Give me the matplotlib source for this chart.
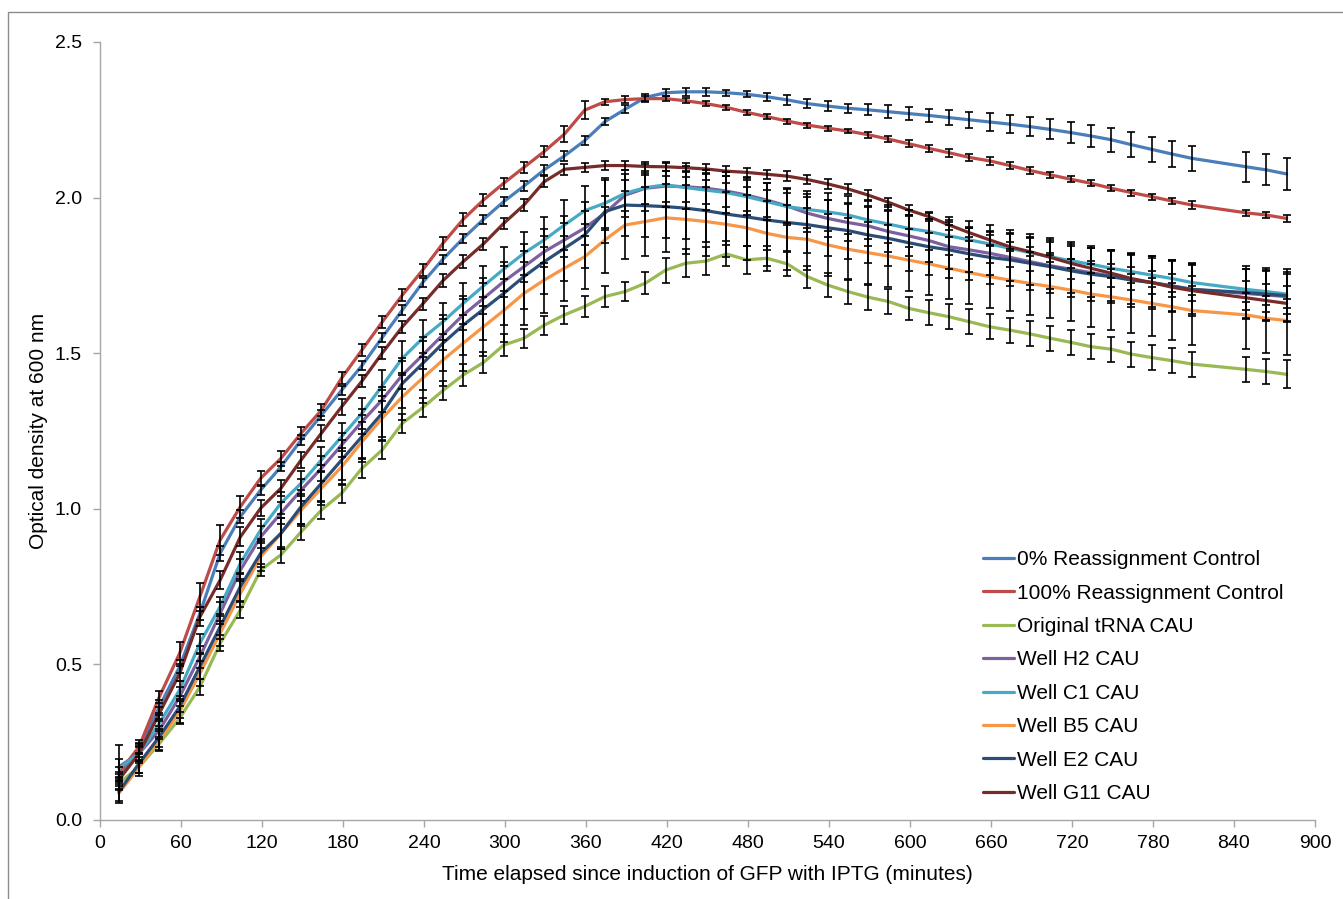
import matplotlib
matplotlib.use("Agg")
import matplotlib.pyplot as plt
from matplotlib.patches import Rectangle

plt.rcParams['font.family'] = ['Liberation Sans', 'DejaVu Sans']

# ---------------- data ----------------
time_min = [14, 29, 44, 59, 74, 89, 104, 119, 134, 149, 164, 179, 194, 209,
            224, 239, 254, 269, 284, 299, 314, 329, 344, 359, 374, 389, 404, 419,
            434, 449, 464, 479, 494, 509, 524, 539, 554, 569, 584, 599, 614, 629,
            644, 659, 674, 689, 704, 719, 734, 749, 764, 779, 794, 809, 849, 864, 879]

series_names = ["0% Reassignment Control", "100% Reassignment Control", "Original tRNA CAU",
                "Well H2 CAU", "Well C1 CAU", "Well B5 CAU", "Well E2 CAU", "Well G11 CAU"]

ctrl0 = [0.140, 0.231, 0.364, 0.493, 0.664, 0.857, 0.975, 1.060, 1.135, 1.221, 1.301, 1.381, 1.460, 1.550,
         1.639, 1.727, 1.802, 1.869, 1.930, 1.987, 2.037, 2.089, 2.134, 2.183, 2.244, 2.284, 2.322, 2.337,
         2.340, 2.340, 2.337, 2.332, 2.324, 2.314, 2.302, 2.294, 2.287, 2.282, 2.276, 2.270, 2.264, 2.257,
         2.250, 2.243, 2.236, 2.228, 2.219, 2.209, 2.198, 2.186, 2.170, 2.155, 2.140, 2.126, 2.099, 2.089, 2.076]
ctrl100 = [0.150, 0.236, 0.396, 0.536, 0.718, 0.900, 1.007, 1.098, 1.162, 1.243, 1.317, 1.420, 1.510, 1.600,
           1.687, 1.767, 1.853, 1.930, 1.992, 2.046, 2.097, 2.148, 2.204, 2.281, 2.308, 2.315, 2.318, 2.318,
           2.311, 2.302, 2.290, 2.274, 2.260, 2.246, 2.233, 2.223, 2.214, 2.202, 2.188, 2.173, 2.158, 2.144,
           2.129, 2.118, 2.103, 2.087, 2.073, 2.059, 2.046, 2.030, 2.016, 2.003, 1.989, 1.976, 1.951, 1.944, 1.933]
original = [0.118, 0.171, 0.246, 0.327, 0.428, 0.568, 0.675, 0.803, 0.852, 0.926, 0.996, 1.050, 1.130, 1.189,
            1.275, 1.325, 1.380, 1.430, 1.470, 1.526, 1.548, 1.590, 1.623, 1.650, 1.682, 1.698, 1.725, 1.767,
            1.789, 1.796, 1.819, 1.800, 1.805, 1.787, 1.746, 1.719, 1.698, 1.680, 1.666, 1.644, 1.630, 1.617,
            1.601, 1.585, 1.574, 1.562, 1.548, 1.535, 1.521, 1.513, 1.497, 1.486, 1.476, 1.465, 1.448, 1.441, 1.432]
well_h2 = [0.171, 0.214, 0.289, 0.396, 0.525, 0.664, 0.803, 0.910, 0.986, 1.060, 1.130, 1.205, 1.280, 1.350,
           1.430, 1.494, 1.559, 1.623, 1.676, 1.730, 1.778, 1.826, 1.864, 1.902, 1.950, 2.008, 2.030, 2.037,
           2.035, 2.030, 2.021, 2.008, 1.992, 1.973, 1.950, 1.933, 1.920, 1.909, 1.891, 1.877, 1.862, 1.842,
           1.832, 1.821, 1.808, 1.794, 1.781, 1.770, 1.759, 1.748, 1.737, 1.727, 1.716, 1.705, 1.692, 1.687, 1.682]
well_c1 = [0.166, 0.214, 0.311, 0.418, 0.568, 0.686, 0.825, 0.932, 1.018, 1.082, 1.157, 1.232, 1.307, 1.395,
           1.484, 1.548, 1.601, 1.660, 1.716, 1.770, 1.821, 1.864, 1.912, 1.958, 1.982, 2.014, 2.032, 2.041,
           2.032, 2.024, 2.016, 2.003, 1.987, 1.971, 1.962, 1.954, 1.944, 1.928, 1.915, 1.901, 1.891, 1.877,
           1.864, 1.851, 1.837, 1.823, 1.810, 1.797, 1.786, 1.773, 1.762, 1.751, 1.740, 1.727, 1.705, 1.698, 1.690]
well_b5 = [0.086, 0.171, 0.257, 0.348, 0.471, 0.600, 0.728, 0.846, 0.921, 0.996, 1.066, 1.135, 1.215, 1.291,
           1.360, 1.420, 1.478, 1.532, 1.585, 1.637, 1.692, 1.735, 1.773, 1.810, 1.864, 1.912, 1.923, 1.935,
           1.930, 1.923, 1.914, 1.903, 1.885, 1.872, 1.866, 1.848, 1.834, 1.823, 1.812, 1.799, 1.787, 1.773,
           1.759, 1.746, 1.735, 1.724, 1.714, 1.703, 1.690, 1.681, 1.671, 1.660, 1.649, 1.637, 1.623, 1.612, 1.605]
well_e2 = [0.091, 0.182, 0.268, 0.364, 0.493, 0.621, 0.750, 0.857, 0.921, 1.007, 1.082, 1.157, 1.232, 1.307,
           1.403, 1.467, 1.532, 1.590, 1.641, 1.692, 1.746, 1.794, 1.837, 1.880, 1.955, 1.976, 1.974, 1.971,
           1.966, 1.958, 1.947, 1.938, 1.928, 1.920, 1.913, 1.903, 1.894, 1.880, 1.869, 1.855, 1.842, 1.832,
           1.819, 1.808, 1.800, 1.789, 1.778, 1.765, 1.754, 1.746, 1.735, 1.727, 1.716, 1.705, 1.695, 1.690, 1.685]
well_g11 = [0.129, 0.214, 0.343, 0.471, 0.653, 0.771, 0.910, 1.002, 1.066, 1.157, 1.243, 1.328, 1.410, 1.500,
            1.585, 1.658, 1.733, 1.794, 1.851, 1.917, 1.976, 2.051, 2.091, 2.097, 2.103, 2.103, 2.100, 2.099,
            2.096, 2.092, 2.085, 2.081, 2.075, 2.069, 2.058, 2.044, 2.028, 2.008, 1.985, 1.960, 1.939, 1.912,
            1.887, 1.864, 1.842, 1.826, 1.808, 1.789, 1.773, 1.757, 1.740, 1.727, 1.712, 1.701, 1.678, 1.669, 1.660]

# error bar half-lengths (standard deviation)
err_ctrl0 = [0.015, 0.015, 0.020, 0.020, 0.020, 0.025, 0.020, 0.015, 0.015, 0.015, 0.015, 0.015, 0.015, 0.015,
             0.015, 0.015, 0.015, 0.015, 0.015, 0.015, 0.015, 0.015, 0.015, 0.015, 0.012, 0.012, 0.010, 0.012,
             0.012, 0.012, 0.010, 0.010, 0.012, 0.015, 0.015, 0.015, 0.015, 0.018, 0.020, 0.020, 0.022, 0.025,
             0.025, 0.028, 0.030, 0.030, 0.032, 0.035, 0.035, 0.038, 0.040, 0.040, 0.042, 0.040, 0.048, 0.050, 0.050]
err_ctrl100 = [0.020, 0.020, 0.020, 0.035, 0.045, 0.048, 0.035, 0.025, 0.025, 0.020, 0.020, 0.020, 0.020, 0.020,
               0.020, 0.020, 0.020, 0.020, 0.018, 0.018, 0.018, 0.018, 0.025, 0.030, 0.010, 0.010, 0.010, 0.008,
               0.008, 0.008, 0.008, 0.008, 0.008, 0.008, 0.008, 0.008, 0.008, 0.010, 0.010, 0.012, 0.012, 0.012,
               0.012, 0.012, 0.012, 0.010, 0.010, 0.010, 0.010, 0.010, 0.010, 0.010, 0.010, 0.012, 0.010, 0.010, 0.010]
err_original = [0.020, 0.020, 0.020, 0.020, 0.025, 0.025, 0.025, 0.020, 0.025, 0.025, 0.030, 0.030, 0.030, 0.030,
                0.030, 0.030, 0.030, 0.035, 0.035, 0.035, 0.030, 0.030, 0.030, 0.035, 0.035, 0.030, 0.035, 0.040,
                0.045, 0.045, 0.040, 0.045, 0.040, 0.040, 0.035, 0.040, 0.040, 0.040, 0.040, 0.038, 0.040, 0.040,
                0.040, 0.040, 0.040, 0.040, 0.040, 0.040, 0.040, 0.040, 0.040, 0.040, 0.040, 0.040, 0.040, 0.040, 0.045]
err_h2 = [0.070, 0.030, 0.030, 0.030, 0.035, 0.035, 0.035, 0.035, 0.035, 0.035, 0.040, 0.040, 0.040, 0.040,
          0.045, 0.045, 0.050, 0.050, 0.050, 0.050, 0.050, 0.050, 0.055, 0.055, 0.055, 0.050, 0.050, 0.050,
          0.050, 0.050, 0.050, 0.050, 0.055, 0.055, 0.060, 0.060, 0.060, 0.065, 0.065, 0.065, 0.070, 0.070,
          0.070, 0.070, 0.075, 0.075, 0.075, 0.075, 0.080, 0.080, 0.080, 0.080, 0.080, 0.080, 0.080, 0.080, 0.080]
err_c1 = [0.030, 0.025, 0.025, 0.030, 0.030, 0.030, 0.035, 0.035, 0.035, 0.040, 0.040, 0.045, 0.050, 0.050,
          0.055, 0.060, 0.060, 0.065, 0.065, 0.070, 0.070, 0.075, 0.080, 0.080, 0.080, 0.075, 0.075, 0.070,
          0.070, 0.065, 0.065, 0.060, 0.060, 0.060, 0.060, 0.060, 0.060, 0.060, 0.060, 0.060, 0.060, 0.060,
          0.060, 0.060, 0.060, 0.060, 0.060, 0.060, 0.060, 0.060, 0.060, 0.060, 0.060, 0.060, 0.065, 0.065, 0.065]
err_b5 = [0.030, 0.030, 0.035, 0.035, 0.040, 0.040, 0.045, 0.045, 0.050, 0.050, 0.055, 0.060, 0.065, 0.070,
          0.075, 0.080, 0.085, 0.090, 0.095, 0.100, 0.100, 0.105, 0.105, 0.105, 0.105, 0.110, 0.110, 0.110,
          0.110, 0.110, 0.105, 0.105, 0.105, 0.105, 0.100, 0.100, 0.100, 0.100, 0.100, 0.100, 0.100, 0.100,
          0.100, 0.100, 0.100, 0.100, 0.100, 0.100, 0.105, 0.105, 0.105, 0.105, 0.105, 0.110, 0.110, 0.110, 0.110]
err_e2 = [0.030, 0.030, 0.035, 0.035, 0.040, 0.040, 0.045, 0.045, 0.050, 0.055, 0.060, 0.065, 0.070, 0.075,
          0.080, 0.085, 0.090, 0.095, 0.100, 0.100, 0.105, 0.105, 0.105, 0.105, 0.100, 0.100, 0.100, 0.100,
          0.100, 0.100, 0.100, 0.095, 0.095, 0.095, 0.090, 0.090, 0.090, 0.090, 0.090, 0.090, 0.090, 0.090,
          0.085, 0.085, 0.085, 0.085, 0.085, 0.085, 0.085, 0.085, 0.085, 0.085, 0.085, 0.085, 0.085, 0.085, 0.085]
err_g11 = [0.020, 0.020, 0.020, 0.025, 0.030, 0.030, 0.030, 0.025, 0.025, 0.025, 0.025, 0.025, 0.020, 0.020,
           0.020, 0.020, 0.020, 0.020, 0.018, 0.018, 0.018, 0.018, 0.018, 0.015, 0.015, 0.015, 0.015, 0.015,
           0.015, 0.015, 0.015, 0.015, 0.015, 0.015, 0.015, 0.015, 0.015, 0.015, 0.015, 0.015, 0.015, 0.015,
           0.015, 0.015, 0.015, 0.015, 0.015, 0.015, 0.015, 0.015, 0.015, 0.015, 0.015, 0.015, 0.015, 0.015, 0.015]

x_ticks = list(range(0, 901, 60))
y_ticks = [0.0, 0.5, 1.0, 1.5, 2.0, 2.5]

colors = ["#4A7EBB", "#BE4B48", "#98B954", "#7D60A0", "#46AAC5", "#F79646", "#2C4D75", "#772C2A"]

values = [ctrl0, ctrl100, original, well_h2, well_c1, well_b5, well_e2, well_g11]
errors = [err_ctrl0, err_ctrl100, err_original, err_h2, err_c1, err_b5, err_e2, err_g11]

# ---------------- figure ----------------
W, H = 1343, 899
fig = plt.figure(figsize=(W / 100, H / 100), dpi=100)
ax = fig.add_axes([100 / W, 1 - 820 / H, (1315 - 100) / W, (820 - 42) / H])

# outer chart border
fig.patches.append(Rectangle((8 / W, -0.05), 1.2, 1 - 12 / H + 0.05, transform=fig.transFigure,
                             fill=False, edgecolor="#8C8C8C", linewidth=1.0))

handles = []
for name, col, v, e in zip(series_names, colors, values, errors):
    (ln,) = ax.plot(time_min, v, color=col, lw=2.3, label=name, zorder=2, solid_capstyle='round')
    ax.errorbar(time_min, v, yerr=e, fmt='none', ecolor='black', elinewidth=1.2,
                capsize=3.2, capthick=1.2, zorder=3)
    handles.append(ln)

ax.set_xlim(0, 900)
ax.set_ylim(0, 2.5)
ax.set_xticks(x_ticks)
ax.set_yticks(y_ticks)
ax.set_yticklabels([f"{t:.1f}" for t in y_ticks])

for s in ["top", "right"]:
    ax.spines[s].set_visible(False)
for s in ["left", "bottom"]:
    ax.spines[s].set_color("#A6A6A6")
    ax.spines[s].set_linewidth(1.0)
ax.tick_params(axis='both', colors="#A6A6A6", labelcolor="black", labelsize=14, length=5, width=1.0,
               direction='out')
ax.tick_params(axis='y', pad=8)
ax.tick_params(axis='x', pad=6)

ax.set_xlabel("Time elapsed since induction of GFP with IPTG (minutes)", fontsize=15, labelpad=9)
ax.set_ylabel("Optical density at 600 nm", fontsize=15, labelpad=5)

leg = ax.legend(handles=handles, loc='upper left', bbox_to_anchor=(975 / W, 1 - 542 / H),
                bbox_transform=fig.transFigure, frameon=False, fontsize=15,
                handlelength=1.45, handletextpad=0.15, labelspacing=0.69, borderaxespad=0)
for lh in leg.get_lines():
    lh.set_linewidth(2.3)

fig.savefig("out.png", dpi=100)
